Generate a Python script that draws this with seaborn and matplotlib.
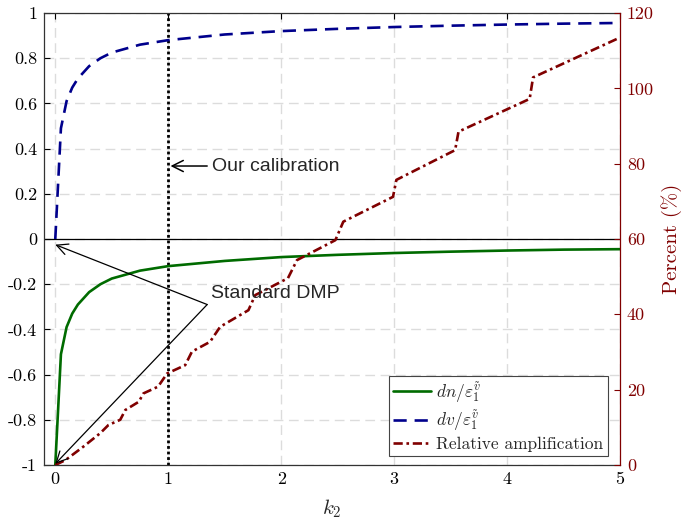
import matplotlib
matplotlib.use("Agg")
import matplotlib.pyplot as plt
import seaborn as sns
import pandas as pd

# ---- data ----
k2_grid = [0, 0.05, 0.1, 0.15, 0.2, 0.3, 0.4, 0.5, 0.75, 1, 1.5, 2, 2.5, 3, 3.5, 4, 4.5, 5]
dn_vals = [-1, -0.51, -0.39, -0.33, -0.29, -0.235, -0.20, -0.175, -0.14, -0.12,
           -0.097, -0.08, -0.07, -0.062, -0.056, -0.051, -0.047, -0.045]
dv_vals = [0, 0.49, 0.61, 0.67, 0.71, 0.765, 0.80, 0.825, 0.86, 0.88,
           0.905, 0.92, 0.93, 0.938, 0.944, 0.949, 0.953, 0.956]

amp_k2 = [0, 0.09, 0.25, 0.40, 0.47, 0.575, 0.62, 0.74, 0.78, 0.91, 0.99, 1.15, 1.21,
          1.37, 1.46, 1.71, 1.77, 2.06, 2.14, 2.48, 2.55, 2.99, 3.02, 3.54, 3.57,
          4.2, 4.23, 5.0]
amp_pct = [0, 1.3, 4.9, 8.5, 10.6, 12, 14.6, 16.8, 19, 20.8, 24.3, 26.5, 30.1,
           32.7, 36.7, 41.1, 45.1, 49.6, 54.4, 59.7, 64.6, 71.2, 75.7, 83.6, 88.5,
           97.2, 102.9, 113.5]

x_ticks = [0, 1, 2, 3, 4, 5]
y_ticks = [-1, -0.8, -0.6, -0.4, -0.2, 0, 0.2, 0.4, 0.6, 0.8, 1]
y_tick_labels = ["-1", "-0.8", "-0.6", "-0.4", "-0.2", "0", "0.2", "0.4", "0.6", "0.8", "1"]
y2_ticks = [0, 20, 40, 60, 80, 100, 120]
calibration_k2 = 1

label_dn = r"$dn/\varepsilon_1^{\tilde{v}}$"
label_dv = r"$dv/\varepsilon_1^{\tilde{v}}$"
label_amp = "Relative amplification"

# ---- style ----
sns.set_style("white")
plt.rcParams["font.family"] = ["cmr10", "DejaVu Serif"]
plt.rcParams["mathtext.fontset"] = "cm"
plt.rcParams["axes.unicode_minus"] = False
plt.rcParams["axes.formatter.use_mathtext"] = True

GREEN = (0.0, 0.42, 0.0)
BLUE = (0.0, 0.0, 0.55)
RED = (0.5, 0.0, 0.0)

fig = plt.figure(figsize=(6.83, 5.25), dpi=100)
ax = fig.add_axes([0.0644, 0.1143, 0.9078 - 0.0644, 0.9752 - 0.1143])

df = pd.DataFrame({"k2": k2_grid, "dn": dn_vals, "dv": dv_vals})
df_amp = pd.DataFrame({"k2": amp_k2, "pct": amp_pct})

ax.set_xlim(-0.1, 5)
ax.set_ylim(-1, 1)

# grid
for xv in x_ticks:
    ax.axvline(xv, color="#dcdcdc", lw=1.0, dashes=(7, 4), zorder=0)
for yv in y_ticks:
    ax.axhline(yv, color="#dcdcdc", lw=1.0, dashes=(7, 4), zorder=0)

ax.axhline(0, color="black", lw=0.9, zorder=1)
ax.axvline(calibration_k2, color="black", lw=2.0, linestyle=(0, (1, 1)), zorder=2)

sns.lineplot(data=df, x="k2", y="dn", ax=ax, color=GREEN, lw=1.9, label=label_dn,
             legend=False, zorder=3)
sns.lineplot(data=df, x="k2", y="dv", ax=ax, color=BLUE, lw=1.9, label=label_dv,
             legend=False, zorder=3)
h_dn = [l for l in ax.lines if l.get_label() == label_dn][0]
h_dv = [l for l in ax.lines if l.get_label() == label_dv][0]
h_dv.set_dashes((5, 3))

ax.set_xticks(x_ticks)
ax.set_xticklabels([str(v) for v in x_ticks], fontsize=13)
ax.set_yticks(y_ticks)
ax.set_yticklabels(y_tick_labels, fontsize=13)
ax.set_xlabel(r"$k_2$", fontsize=15, labelpad=7)
ax.set_ylabel("")
ax.tick_params(axis="both", direction="in", length=4, width=0.8, top=True,
               right=False, pad=5, colors="black")
for s in ["left", "bottom", "top"]:
    ax.spines[s].set_color("#333333")
    ax.spines[s].set_linewidth(0.9)
ax.spines["right"].set_visible(False)

# right axis
ax2 = ax.twinx()
sns.lineplot(data=df_amp, x="k2", y="pct", ax=ax2, color=RED, lw=1.9,
             label=label_amp, legend=False, zorder=3)
h_amp = [l for l in ax2.lines if l.get_label() == label_amp][0]
h_amp.set_dashes((3.5, 1.4, 1.0, 1.4))
ax2.set_ylim(0, 120)
ax2.set_yticks(y2_ticks)
ax2.set_yticklabels([str(v) for v in y2_ticks], fontsize=13)
ax2.set_ylabel("Percent (%)", fontsize=15, color=RED, labelpad=5)
ax2.tick_params(axis="y", direction="in", length=4, width=0.8, colors=RED, pad=5)
ax2.spines["right"].set_color(RED)
ax2.spines["right"].set_linewidth(0.9)
for s in ["left", "top", "bottom"]:
    ax2.spines[s].set_visible(False)

# annotations (drawn on top axes, positioned in left-axis data coords)
sans = "Liberation Sans"
arrow_kw = dict(arrowstyle="->", color="black", mutation_scale=20, shrinkA=0, shrinkB=0)
ax2.annotate("", xy=(1.02, 0.323), xytext=(1.345, 0.323), xycoords=ax.transData,
             textcoords=ax.transData, arrowprops=dict(lw=1.1, **arrow_kw), zorder=6,
             annotation_clip=False)
ax2.text(1.39, 0.323, "Our calibration", family=sans, fontsize=14,
         ha="left", va="center", transform=ax.transData, zorder=6)
ax2.annotate("", xy=(0.0, -0.025), xytext=(1.345, -0.29), xycoords=ax.transData,
             textcoords=ax.transData, arrowprops=dict(lw=0.9, **arrow_kw), zorder=6,
             annotation_clip=False)
ax2.annotate("", xy=(0.0, -0.995), xytext=(1.345, -0.29), xycoords=ax.transData,
             textcoords=ax.transData, arrowprops=dict(lw=0.9, **arrow_kw), zorder=6,
             annotation_clip=False)
ax2.text(1.38, -0.24, "Standard DMP", family=sans, fontsize=14,
         ha="left", va="center", transform=ax.transData, zorder=6)

leg = ax2.legend([h_dn, h_dv, h_amp], [label_dn, label_dv, label_amp],
                 loc="lower right", bbox_to_anchor=(0.985, 0.012), fontsize=12.5,
                 frameon=True, fancybox=False, framealpha=1, edgecolor="#444444",
                 borderpad=0.25, labelspacing=0.2, handlelength=2.2,
                 handletextpad=0.3, borderaxespad=0.2)
leg.get_frame().set_linewidth(0.8)
leg.set_zorder(7)

fig.savefig("out.png", dpi=100)
